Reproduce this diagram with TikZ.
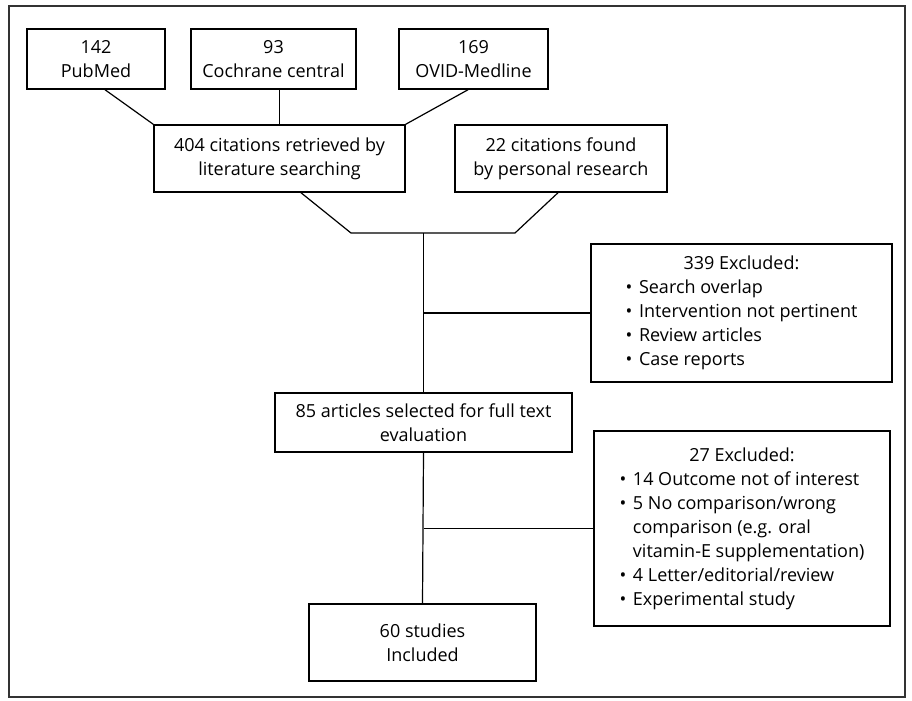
\documentclass[tikz,border=0pt]{standalone}
\usepackage{fontspec}
\setmainfont{Open Sans}
\usetikzlibrary{calc}

\tikzset{
  box/.style={draw, line width=1.1pt, align=center, inner sep=0pt,
    font=\fontsize{13.5}{18}\selectfont},
  link/.style={draw, line width=0.9pt},
}

\begin{document}
\begin{tikzpicture}[x=0.75pt,y=-0.75pt]
\useasboundingbox (0,0) rectangle (912,700);
\draw[line width=1.3pt, black!80] (9,6) rectangle (905,697);

% sources
\node[box, minimum width=103.5pt, minimum height=45pt] (pub) at (96,59) {142\\PubMed};
\node[box, minimum width=123.75pt, minimum height=45pt] (coch) at (273.5,59) {93\\Cochrane central};
\node[box, minimum width=111.75pt, minimum height=45pt] (ovid) at (473.5,59) {169\\OVID-Medline};

\node[box, minimum width=188.25pt, minimum height=50.25pt] (lit) at (279.5,158.5) {404 citations retrieved by\\literature searching};
\node[box, minimum width=159pt, minimum height=50.25pt] (pers) at (561,158.5) {22 citations found\\by personal research};

% screening
\node[box, minimum width=225.75pt, minimum height=103.5pt] (exa) at (741.5,313) {%
  \begin{tabular}{@{}l@{\hspace{5pt}}l@{}}
  \multicolumn{2}{c}{339 Excluded:}\\
  \textbullet & Search overlap\\
  \textbullet & Intervention not pertinent\\
  \textbullet & Review articles\\
  \textbullet & Case reports
  \end{tabular}};
\node[box, minimum width=222.75pt, minimum height=44.25pt] (sel) at (423.5,422.5) {85 articles selected for full text\\evaluation};
\node[box, minimum width=222pt, minimum height=146.25pt] (exb) at (742,528.5) {%
  \begin{tabular}{@{}l@{\hspace{5pt}}l@{}}
  \multicolumn{2}{c}{27 Excluded:}\\
  \textbullet & 14 Outcome not of interest\\
  \textbullet & 5 No comparison/wrong\\
   & comparison (e.g. oral\\
   & vitamin-E supplementation)\\
  \textbullet & 4 Letter/editorial/review\\
  \textbullet & Experimental study
  \end{tabular}};
\node[box, minimum width=170.25pt, minimum height=57.75pt] (inc) at (422.5,642.5) {60 studies\\Included};

% connectors
\draw[link] ($(pub.south)+(9,0)$) -- (lit.north west);
\draw[link] (lit.north) -- (lit.north |- coch.south);
\draw[link] ($(ovid.south)+(-5.5,0)$) -- (lit.north east);

\coordinate (jl) at (351,233);
\coordinate (jr) at (515,233);
\coordinate (jm) at (sel.north |- jl);
\draw[link] ($(lit.south)+(21.5,0)$) -- (jl) -- (jr) -- ($(pers.south)+(-3,0)$);
\draw[link] (jm) -- (sel.north);
\draw[link] (exa.west) -- (exa.west -| sel.north);
\draw[link] (sel.south) -- (inc.north);
\draw[link] (exb.west) -- (exb.west -| sel.south);
\end{tikzpicture}
\end{document}
